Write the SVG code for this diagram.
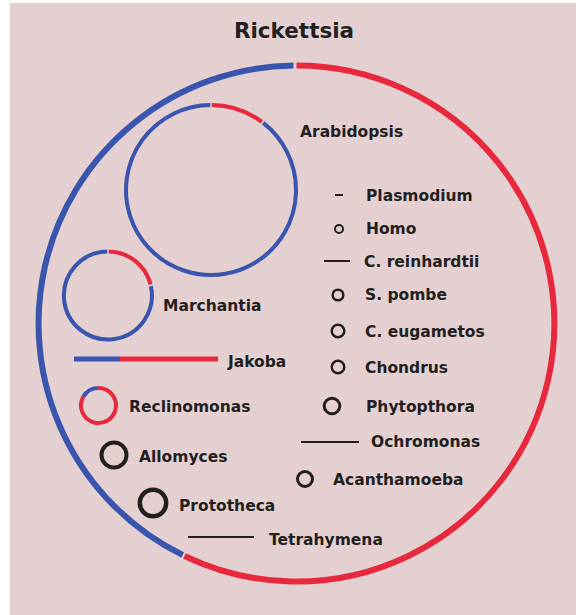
<svg xmlns="http://www.w3.org/2000/svg" width="576" height="615" viewBox="0 0 576 615">
<style>
.bg{fill:#e4d0d1}
.b{fill:none;stroke:#3a55ae}
.r{fill:none;stroke:#e8283d}
.k{fill:none;stroke:#231f20}
text{font-family:"DejaVu Sans","Verdana",sans-serif;font-weight:bold;fill:#231f20;font-size:15.5px}
.title{font-size:21.5px;text-anchor:middle}
</style>
<rect x="0" y="0" width="576" height="615" fill="#ffffff"/>
<rect class="bg" x="10" y="3" width="566" height="612"/>
<text class="title" x="294" y="38">Rickettsia</text>
<g id="rickettsia">
<path class="b" stroke-width="6" d="M293.5 65.5 A258 258 0 0 0 182.7 555"/>
<path class="r" stroke-width="6" d="M296.5 65.5 A258 258 0 1 1 184.5 556"/>
</g>
<g id="arabidopsis">
<path class="r" stroke-width="4" d="M211.7 105 A85 85 0 0 1 261.8 121.8"/>
<path class="b" stroke-width="4" d="M263.2 122.9 A85 85 0 1 1 210.3 105"/>
<text x="300" y="137">Arabidopsis</text>
</g>
<g id="marchantia">
<path class="r" stroke-width="4" d="M108.7 251.5 A44 44 0 0 1 150.6 284.4"/>
<path class="b" stroke-width="4" d="M150.9 286.2 A44 44 0 1 1 107.3 251.5"/>
<text x="163" y="311">Marchantia</text>
</g>
<g id="jakoba">
<line class="b" stroke-width="5" x1="74" y1="359" x2="120" y2="359"/>
<line class="r" stroke-width="5" x1="120" y1="359" x2="218" y2="359"/>
<text x="228" y="367">Jakoba</text>
</g>
<g id="reclinomonas">
<path class="b" stroke-width="4" d="M83.3 396.8 A17.5 17.5 0 0 1 97.9 388"/>
<path class="r" stroke-width="4" d="M97.9 388 A17.5 17.5 0 1 1 83.3 396.8"/>
<text x="129" y="412">Reclinomonas</text>
</g>
<g id="allomyces">
<circle class="k" stroke-width="4" cx="114" cy="455" r="12.5"/>
<text x="139" y="462">Allomyces</text>
</g>
<g id="prototheca">
<circle class="k" stroke-width="4.5" cx="153" cy="503" r="13.2"/>
<text x="179" y="511">Prototheca</text>
</g>
<g id="tetrahymena">
<line class="k" stroke-width="2" x1="188" y1="537" x2="254" y2="537"/>
<text x="269" y="545">Tetrahymena</text>
</g>
<g id="plasmodium">
<line class="k" stroke-width="2" x1="335" y1="195" x2="343" y2="195"/>
<text x="366" y="201">Plasmodium</text>
</g>
<g id="homo">
<circle class="k" stroke-width="2" cx="339" cy="229" r="4"/>
<text x="366" y="234">Homo</text>
</g>
<g id="c-reinhardtii">
<line class="k" stroke-width="2" x1="324" y1="261" x2="350" y2="261"/>
<text x="364" y="267">C. reinhardtii</text>
</g>
<g id="s-pombe">
<circle class="k" stroke-width="2.5" cx="338" cy="295" r="5.3"/>
<text x="365" y="300">S. pombe</text>
</g>
<g id="c-eugametos">
<circle class="k" stroke-width="2.5" cx="338" cy="331" r="6.3"/>
<text x="365" y="337">C. eugametos</text>
</g>
<g id="chondrus">
<circle class="k" stroke-width="2.5" cx="338" cy="367" r="6.3"/>
<text x="365" y="373">Chondrus</text>
</g>
<g id="phytopthora">
<circle class="k" stroke-width="3" cx="332" cy="406" r="7.8"/>
<text x="366" y="412">Phytopthora</text>
</g>
<g id="ochromonas">
<line class="k" stroke-width="2" x1="301" y1="442" x2="359" y2="442"/>
<text x="371" y="447">Ochromonas</text>
</g>
<g id="acanthamoeba">
<circle class="k" stroke-width="3" cx="305" cy="479" r="7.5"/>
<text x="333" y="485">Acanthamoeba</text>
</g>
<g id="connectors"/>
</svg>
